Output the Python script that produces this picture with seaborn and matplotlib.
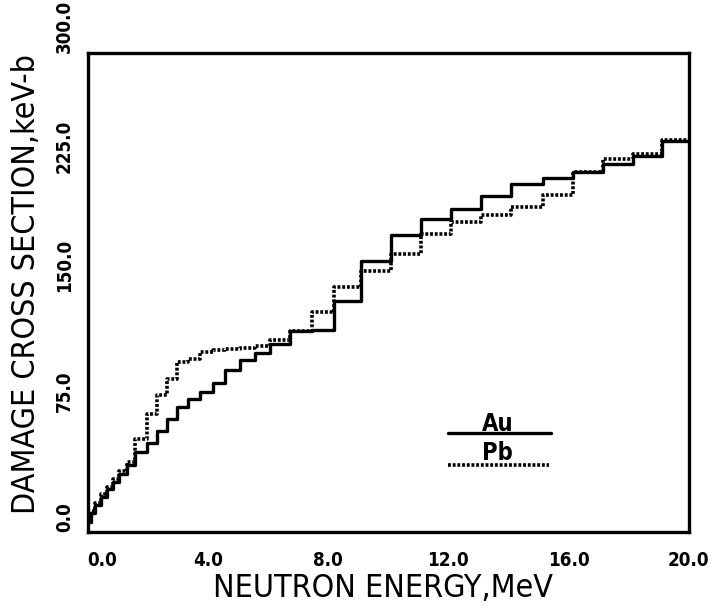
import numpy as np
import pandas as pd
import matplotlib
matplotlib.use("Agg")
import matplotlib.pyplot as plt
import seaborn as sns

# === Energy group edges (MeV) ===
edges = [0.0, 0.1, 0.25, 0.45, 0.65, 0.85, 1.05, 1.3, 1.58, 1.97, 2.3, 2.63,
         2.96, 3.34, 3.74, 4.17, 4.57, 5.07, 5.57, 6.07, 6.73, 7.45, 8.2, 9.1,
         10.1, 11.1, 12.1, 13.1, 14.1, 15.15, 16.15, 17.15, 18.15, 19.1, 20.0]

# === Damage cross sections per group (keV-b) ===
au_vals = [6, 12, 17, 22, 27, 31, 36, 42, 50, 56, 63, 71, 78, 83, 87.5, 93,
           101.5, 107.5, 112, 117.5, 125.5, 126.5, 144.5, 169.5, 185.6, 196,
           202.3, 210, 218, 221.4, 225.2, 230.4, 235.6, 245]
pb_vals = [7, 13, 18, 24, 28, 33, 38, 44, 58.5, 74, 86, 95.5, 106.5, 108.5,
           112.7, 113.8, 114.4, 115, 116.5, 120, 126, 137.5, 153.3, 163.5,
           174.2, 186.7, 194, 198.7, 203.3, 211.2, 225.5, 233.5, 236.7, 245.5]

xticks = [0, 4, 8, 12, 16, 20]
yticks = [0, 75, 150, 225, 300]

sns.set_style("white")
plt.rcParams["font.family"] = ["DejaVu Sans"]
plt.rcParams["font.stretch"] = "condensed"
plt.rcParams["text.color"] = "black"
plt.rcParams["axes.labelcolor"] = "black"
plt.rcParams["xtick.color"] = "black"
plt.rcParams["ytick.color"] = "black"

df = pd.concat([
    pd.DataFrame({"E": edges, "sigma": au_vals + [au_vals[-1]], "metal": "Au"}),
    pd.DataFrame({"E": edges, "sigma": pb_vals + [pb_vals[-1]], "metal": "Pb"}),
])

fig = plt.figure(figsize=(7.22, 6.14), dpi=100)
ax = fig.add_axes([0.1213, 0.1336, 0.8327, 0.7806])

dotted = (0, (0.8, 0.5))
sns.lineplot(data=df[df.metal == "Au"], x="E", y="sigma", ax=ax,
             drawstyle="steps-post", color="black", lw=2.4, estimator=None)
sns.lineplot(data=df[df.metal == "Pb"], x="E", y="sigma", ax=ax,
             drawstyle="steps-post", color="black", lw=2.6,
             linestyle=dotted, estimator=None)

# legend drawn inside like the plotter did it
ax.plot([12.0, 15.4], [61.9, 61.9], color="black", lw=2.4)
ax.plot([12.0, 15.35], [41.9, 41.9], color="black", lw=2.6, linestyle=dotted)
ax.text(13.65, 63.3, "Au", ha="center", va="baseline", fontsize=17,
        fontweight="bold", fontstretch="condensed", color="black")
ax.text(13.65, 45.0, "Pb", ha="center", va="baseline", fontsize=17,
        fontweight="bold", fontstretch="condensed", color="black")

ax.set_xlim(0, 20)
ax.set_ylim(0, 300)
ax.set_xticks(xticks)
ax.set_yticks(yticks)
xl = ax.set_xticklabels([f"{v:.1f}" for v in xticks], fontsize=13.5,
                        fontweight="bold", fontstretch="condensed")
xl[0].set_ha("left")
ax.set_yticklabels([f"{v:.1f}" for v in yticks], fontsize=13.5, fontweight="bold",
                   fontstretch="condensed", rotation=90, va="bottom")
ax.tick_params(axis="x", direction="inout", length=14, width=2.2, pad=6.5,
               colors="black")
ax.tick_params(axis="y", direction="out", length=8, width=2.2, pad=1.8,
               colors="black")

for s in ax.spines.values():
    s.set_linewidth(2.4)
    s.set_color("black")

ax.set_xlabel("NEUTRON ENERGY,MeV", fontsize=23, fontstretch="condensed", color="black")
ax.set_ylabel("DAMAGE CROSS SECTION,keV-b", fontsize=23, fontstretch="condensed",
              color="black")
ax.xaxis.set_label_coords(0.492, -0.0855)
ax.yaxis.set_label_coords(-0.075, 0.517)

fig.savefig("out.png", dpi=100)
